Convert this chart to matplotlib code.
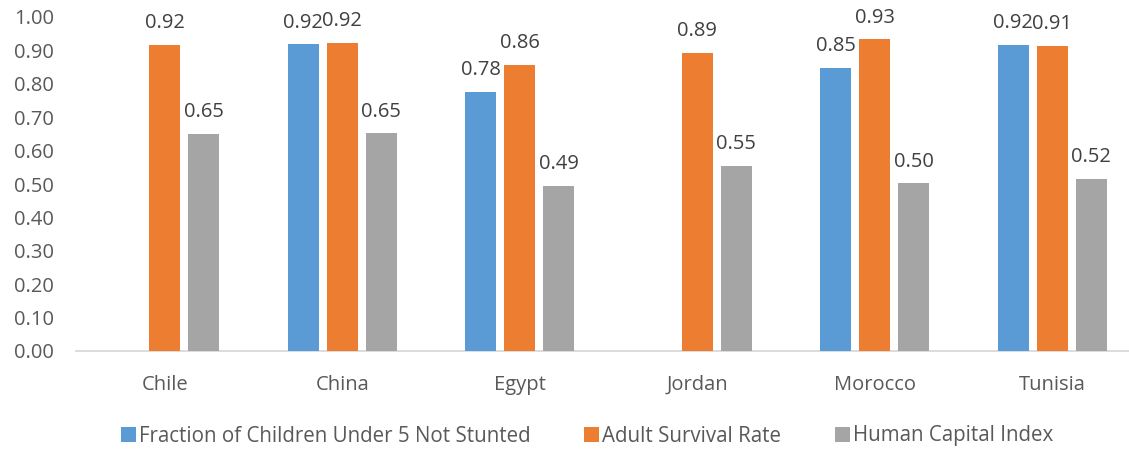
import matplotlib
matplotlib.use("Agg")
import matplotlib.pyplot as plt
import numpy as np

categories = ["Chile", "China", "Egypt", "Jordan", "Morocco", "Tunisia"]
stunted = [np.nan, 0.918, 0.775, np.nan, 0.847, 0.916]
survival = [0.916, 0.922, 0.856, 0.892, 0.933, 0.913]
hci = [0.650, 0.652, 0.494, 0.554, 0.502, 0.515]
series_names = ["Fraction of Children Under 5 Not Stunted", "Adult Survival Rate", "Human Capital Index"]
colors = ["#5B9BD5", "#ED7D31", "#A5A5A5"]
yticks = [0.0, 0.1, 0.2, 0.3, 0.4, 0.5, 0.6, 0.7, 0.8, 0.9, 1.0]

plt.rcParams['font.family'] = ['Open Sans', 'DejaVu Sans']
txt = "#595959"

W, H = 1129, 451
fig = plt.figure(figsize=(W / 100, H / 100), dpi=100)
left, right, top, bottom = 76, 1141, 17, 351
ax = fig.add_axes([left / W, 1 - bottom / H, (right - left) / W, (bottom - top) / H])

x = np.arange(len(categories))
step = 0.22
width = 0.175
all_series = [stunted, survival, hci]
handles = []
for i, (vals, name, c) in enumerate(zip(all_series, series_names, colors)):
    pos = x + (i - 1) * step
    b = ax.bar(pos, vals, width=width, color=c, label=name, zorder=3)
    handles.append(b)
    for p, v in zip(pos, vals):
        if not np.isnan(v):
            ax.annotate(f"{v:.2f}", (p, v), xytext=(0, 12), textcoords="offset points",
                        ha="center", va="baseline", fontsize=14.5, color="#404040")

ax.set_xlim(-0.5, len(categories) - 0.5)
ax.set_ylim(0, 1.0)
ax.set_yticks(yticks)
ax.set_yticklabels([f"{t:.2f}" for t in yticks])
ax.set_xticks(x)
ax.set_xticklabels(categories)
ax.tick_params(axis="y", length=0, pad=16, labelsize=14.5, labelcolor=txt)
ax.tick_params(axis="x", length=0, pad=17, labelsize=14.5, labelcolor=txt)
for s in ["top", "right", "left"]:
    ax.spines[s].set_visible(False)
ax.spines["bottom"].set_color("#D9D9D9")
ax.spines["bottom"].set_linewidth(1.3)

leg = fig.legend(handles=handles, labels=series_names, loc="center", bbox_to_anchor=(587 / W, 1 - 436 / H),
                 ncol=3, frameon=False, fontsize=14.8, handlelength=0.73, handleheight=0.73,
                 handletextpad=0.15, columnspacing=2.6, labelcolor=txt)

fig.savefig("out.png", dpi=100)
